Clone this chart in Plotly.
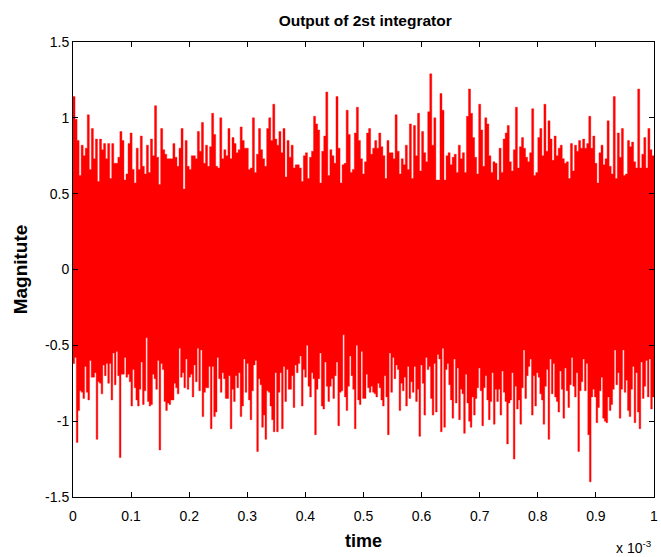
import numpy as np
import plotly.graph_objects as go

# Per-column maxima of the 2nd integrator output, left to right
upper_a = [1.14, 0.99, 0.85, 0.62, 0.82, 0.75, 0.80, 1.02, 0.66, 0.93, 0.73, 0.86, 0.58, 0.86, 0.79, 0.83,
           0.73, 0.83, 0.60, 0.83, 0.70, 0.70, 0.74, 0.91, 0.85, 0.59, 0.63, 0.83, 0.90, 0.66, 0.57, 0.80,
           0.66, 0.88, 0.68, 0.63, 0.82, 0.64, 0.86, 0.75, 1.08, 0.74, 0.56, 0.93, 0.79, 0.76, 0.73]
upper_b = [0.73, 0.73, 0.83, 0.74, 0.68, 0.80, 0.93, 0.53, 0.85, 0.68, 0.66, 0.75, 0.75, 0.73, 0.91, 0.78,
           0.97, 0.70, 0.82, 0.68, 0.81, 1.03, 0.89, 0.68, 0.67, 1.00, 0.73, 0.79, 0.75, 0.93, 0.73, 0.87,
           0.83, 0.77, 0.79, 0.94, 0.85, 0.80, 0.80, 0.66, 0.67, 1.00, 0.64, 0.76, 0.93, 0.79, 0.73, 0.68,
           0.93, 1.00, 0.85]
upper_c = [1.09, 0.86, 0.82, 0.91, 0.77, 0.93, 0.61, 0.85, 0.74, 0.82, 0.67, 0.69, 0.69, 0.67, 0.58, 0.75,
           0.77, 0.60, 0.74, 0.78, 1.01, 0.96, 0.92, 0.57, 0.78, 0.88, 1.17, 0.62, 0.79, 0.75, 0.70, 1.14,
           0.80, 0.57, 0.69, 0.70, 1.05, 0.89, 0.64, 0.66, 0.90, 1.07, 0.85, 0.73, 0.63, 0.71, 0.90, 0.93,
           0.76, 0.80, 0.85]
upper_d = [0.80, 0.90, 0.81, 0.75, 0.60, 0.85, 0.77, 0.77, 0.73, 1.02, 0.78, 0.63, 0.73, 0.69, 0.82, 0.66,
           0.96, 0.60, 0.95, 0.75, 1.03, 0.65, 0.91, 0.77, 0.71, 1.04, 1.29, 0.82, 1.00, 0.59, 0.59, 1.16,
           1.05, 0.59, 0.75, 0.77, 0.69, 0.74, 0.76, 0.64, 0.82, 0.73, 0.77, 0.64, 1.01, 1.19, 1.03, 0.87,
           0.74, 0.63, 1.09]
upper_e = [0.92, 0.68, 1.00, 0.96, 0.75, 0.64, 0.71, 0.70, 0.59, 0.80, 0.64, 0.86, 0.90, 0.95, 0.71, 0.65,
           0.79, 1.07, 0.67, 0.81, 0.87, 0.80, 0.74, 0.71, 0.77, 1.06, 0.62, 0.64, 0.87, 0.93, 0.75, 1.09,
           0.78, 0.98, 0.86, 0.72, 0.88, 0.75, 0.80, 0.82, 0.73, 0.70, 0.71, 0.60, 0.83, 0.65, 0.82, 0.78,
           0.85, 0.80, 0.86]
upper_f = [0.80, 0.83, 1.01, 0.80, 0.88, 0.70, 0.57, 0.77, 0.82, 0.69, 0.73, 0.98, 0.68, 0.63, 1.14, 0.60,
           0.90, 0.74, 0.93, 0.62, 0.63, 0.85, 0.81, 0.84, 0.71, 0.67, 1.19, 0.67, 0.76, 0.87, 0.67, 0.93,
           0.79, 0.75]

# Per-column minima of the same signal
lower_a = [-0.62, -0.58, -1.14, -0.93, -0.80, -0.81, -0.85, -0.64, -0.81, -0.86, -0.60, -0.71, -0.71, -0.68,
           -1.12, -0.74, -0.75, -0.82, -0.63, -0.70, -0.62, -0.75, -0.62, -0.86, -0.55, -0.76, -0.54, -0.70,
           -1.24, -0.69, -0.69, -0.58, -0.71, -0.69, -0.74, -0.90, -0.66, -0.78, -0.86, -0.90, -0.79, -0.61,
           -0.89, -0.80, -0.45, -0.87, -0.90, -0.89, -0.69, -0.72, -0.79, -0.60, -1.19, -0.62, -0.66, -0.87,
           -0.93, -0.88]
lower_b = [-0.89, -0.86, -0.86, -0.75, -0.78, -0.82, -0.52, -0.71, -0.68, -0.78, -0.59, -0.79, -0.71, -0.69,
           -0.84, -0.63, -0.74, -0.52, -0.80, -0.53, -0.97, -0.81, -0.78, -0.78, -0.64, -1.05, -0.64, -0.97,
           -0.94, -0.58, -0.72, -0.81, -0.68, -0.72, -0.85, -0.85, -0.70, -1.05, -0.79, -0.87, -0.70, -0.78,
           -0.68, -0.97, -0.90, -0.59, -0.81, -0.62, -0.86, -0.99, -0.80, -0.63, -0.60, -1.20, -0.72, -0.76,
           -1.04, -0.96, -1.12, -0.80, -0.81, -0.90, -0.99]
lower_c = [-1.07, -0.68, -1.07, -0.81, -0.68, -1.05, -0.64, -0.87, -0.66, -0.79, -0.79, -0.70, -0.91, -0.63,
           -0.68, -0.62, -0.57, -0.90, -0.66, -0.71, -0.50, -0.77, -0.84, -0.68, -0.72, -1.09, -0.79, -0.72,
           -0.55, -0.90, -0.92, -0.61, -0.77, -0.87, -0.77, -0.72, -0.85, -0.70, -0.61, -1.03, -0.81, -0.80,
           -0.43, -0.84, -0.93, -0.77, -0.57, -0.70, -0.79, -1.05, -0.50, -0.86, -0.89, -0.54, -0.85, -0.85,
           -0.69, -0.78, -0.81, -0.77, -0.81, -0.82, -0.84]
lower_d = [-0.75, -0.78, -0.86, -0.90, -0.70, -0.84, -1.09, -0.55, -0.81, -0.58, -0.72, -0.63, -0.66, -0.93,
           -0.75, -0.80, -0.71, -0.90, -0.64, -0.85, -0.74, -0.81, -0.64, -0.87, -0.79, -1.10, -0.63, -0.75,
           -0.96, -0.58, -0.66, -0.64, -0.85, -0.96, -0.62, -0.94, -0.56, -0.59, -1.07, -0.52, -1.04, -0.66,
           -0.62, -0.76, -0.86, -0.98, -0.59, -0.88, -0.65, -0.99, -0.79, -0.82, -1.08, -0.69, -0.88, -1.00,
           -1.04, -0.84, -0.96, -0.85, -0.78, -0.65, -0.80]
lower_e = [-1.03, -0.78, -0.70, -0.86, -0.99, -0.87, -0.68, -1.02, -0.79, -0.87, -0.79, -0.96, -0.67, -0.81,
           -0.87, -1.15, -0.88, -0.86, -0.68, -1.25, -0.77, -0.92, -0.86, -1.02, -0.78, -0.53, -0.85, -0.70,
           -0.64, -0.59, -0.96, -0.70, -0.90, -0.68, -0.71, -0.82, -0.86, -1.02, -0.77, -0.66, -1.12, -0.59,
           -0.82, -0.62, -0.84, -0.87, -0.94, -0.67, -0.79, -0.98, -0.65, -0.80, -0.91, -0.76, -0.58, -0.77,
           -0.84, -0.68, -1.20, -0.80, -0.74, -0.59, -0.80]
lower_f = [-0.62, -1.09, -1.40, -0.84, -0.79, -0.84, -1.01, -0.91, -0.80, -0.71, -0.98, -1.00, -1.01, -0.84,
           -0.93, -0.89, -0.79, -0.53, -0.76, -0.68, -0.98, -0.79, -0.53, -0.81, -0.73, -0.93, -0.97, -0.79,
           -0.64, -1.01, -0.68, -0.94, -1.05, -0.61, -0.85, -0.77, -0.60, -0.84, -0.59, -0.92, -0.84]

upper_env = upper_a + upper_b + upper_c + upper_d + upper_e + upper_f
lower_env = lower_a + lower_b + lower_c + lower_d + lower_e + lower_f

t_end = 1e-3  # seconds
x_ticks = [0.0, 0.1, 0.2, 0.3, 0.4, 0.5, 0.6, 0.7, 0.8, 0.9, 1.0]      # in units of 1e-3 s
x_tick_text = ["0", "0.1", "0.2", "0.3", "0.4", "0.5", "0.6", "0.7", "0.8", "0.9", "1"]
y_ticks = [-1.5, -1.0, -0.5, 0.0, 0.5, 1.0, 1.5]
y_tick_text = ["-1.5", "-1", "-0.5", "0", "0.5", "1", "1.5"]


def stepped(values):
    """Column edges over [0, t_end] and values held across each column."""
    edges = np.linspace(0.0, t_end, len(values) + 1)
    return edges, list(values) + [values[-1]]


FONT = "Liberation Sans, Arial, sans-serif"
RED = "#ff0000"

fig = go.Figure()
# lower envelope first, then the upper one filled down to it (one solid band)
for env, fill in ((lower_env, "none"), (upper_env, "tonexty")):
    tx, ty = stepped(env)
    fig.add_trace(go.Scatter(
        x=tx, y=ty, mode="lines",
        line=dict(color=RED, width=0.4, shape="hv"),
        fill=fill, fillcolor=RED,
        hoverinfo="skip", showlegend=False,
    ))

axis_common = dict(
    showgrid=False, zeroline=False,
    showline=True, linecolor="black", linewidth=1, mirror="ticks",
    ticks="inside", ticklen=5, tickcolor="black",
    tickfont=dict(family=FONT, size=14, color="black"),
    ticklabeloverflow="allow",
)

fig.update_layout(
    width=661, height=557,
    margin=dict(l=73, r=3, t=42, b=60),
    paper_bgcolor="white", plot_bgcolor="white",
    title=dict(text="<b>Output of 2st integrator</b>", x=0.5525, xanchor="center",
               y=0.963, yanchor="middle", font=dict(family=FONT, size=15.5, color="black")),
    xaxis=dict(range=[0, t_end * (1 + 1e-9)], tickvals=[v * 1e-3 for v in x_ticks], ticktext=x_tick_text,
               ticklabelstandoff=6,
               title=dict(text="<b>time</b>", font=dict(family=FONT, size=18, color="black"), standoff=11),
               **axis_common),
    yaxis=dict(range=[-1.5, 1.5], tickvals=y_ticks, ticktext=y_tick_text,
               title=dict(text="<b>Magnitute</b>", font=dict(family=FONT, size=19, color="black"), standoff=12),
               **axis_common),
    annotations=[dict(text="x 10<sup>-3</sup>", xref="paper", yref="paper", x=1.0, y=-0.11,
                      xanchor="right", yanchor="middle", showarrow=False,
                      font=dict(family=FONT, size=14, color="black"))],
)

fig.write_html("out.html")
